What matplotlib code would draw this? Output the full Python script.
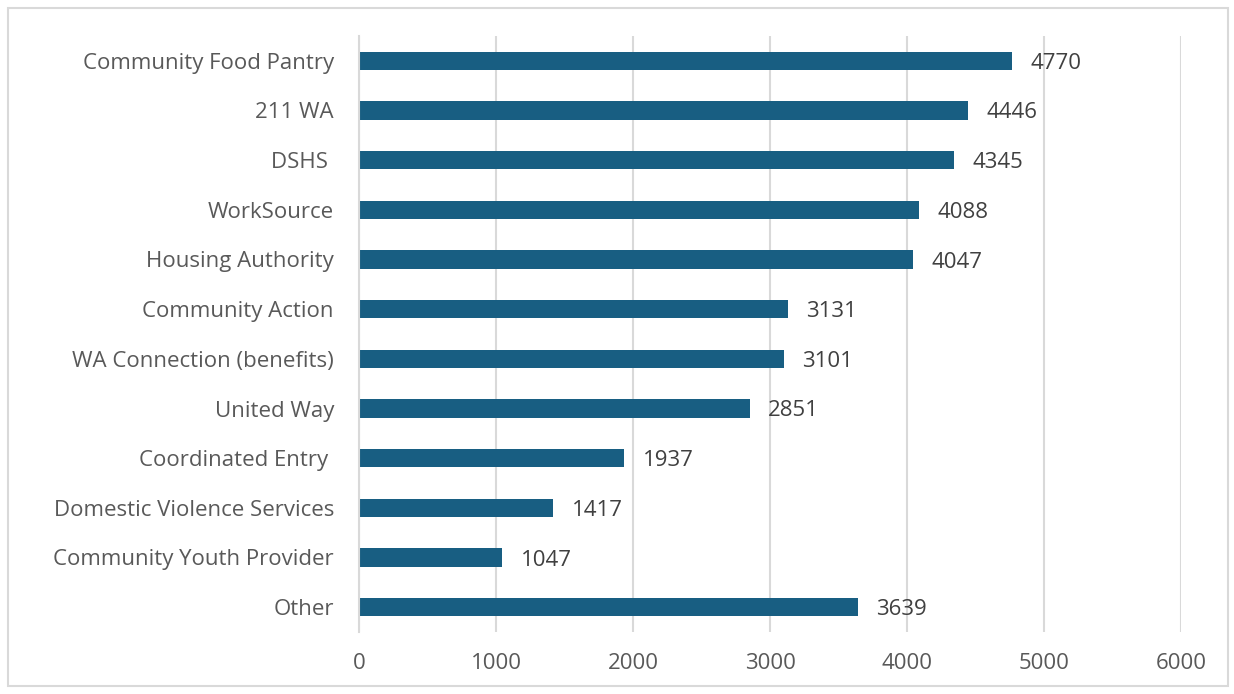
import matplotlib
matplotlib.use("Agg")
import matplotlib.pyplot as plt
from matplotlib.patches import Rectangle

categories = ["Community Food Pantry", "211 WA", "DSHS ", "WorkSource", "Housing Authority",
              "Community Action", "WA Connection (benefits)", "United Way", "Coordinated Entry ",
              "Domestic Violence Services", "Community Youth Provider", "Other"]
values = [4770, 4446, 4345, 4088, 4047, 3131, 3101, 2851, 1937, 1417, 1047, 3639]
xticks = [0, 1000, 2000, 3000, 4000, 5000, 6000]

plt.rcParams['font.family'] = ['Open Sans', 'DejaVu Sans']
fig = plt.figure(figsize=(12.34, 6.94), dpi=100)
ax = fig.add_axes([359/1234, 1-632/694, (1181-359)/1234, (632-36)/694])

FS = 16
ypos = list(range(len(categories)))
ax.barh(ypos, values, height=0.37, color="#185e82")
ax.set_ylim(len(categories)-0.5, -0.5)
ax.set_xlim(0, 6000)
ax.set_yticks(ypos)
ax.set_yticklabels(categories, fontsize=FS, color="#595959", va='center_baseline')
ax.set_xticks(xticks)
ax.set_xticklabels([str(t) for t in xticks], fontsize=FS, color="#595959")
ax.tick_params(axis='both', length=0)
ax.tick_params(axis='y', pad=18)
ax.tick_params(axis='x', pad=15)
ax.grid(axis='x', color="#d9d9d9", linewidth=1.5)
ax.set_axisbelow(True)
for s in ["top", "right", "bottom"]:
    ax.spines[s].set_visible(False)
ax.spines["left"].set_color("#d9d9d9")
ax.spines["left"].set_linewidth(1.5)

for y, v in zip(ypos, values):
    ax.text(v + 135, y, str(v), va='center_baseline', ha='left', fontsize=FS, color="#404040")

fig.patches.append(Rectangle((8/1234, 1-686/694), 1220/1234, 678/694, transform=fig.transFigure,
                             fill=False, edgecolor="#d9d9d9", linewidth=1.5))
fig.savefig("out.png", dpi=100)
